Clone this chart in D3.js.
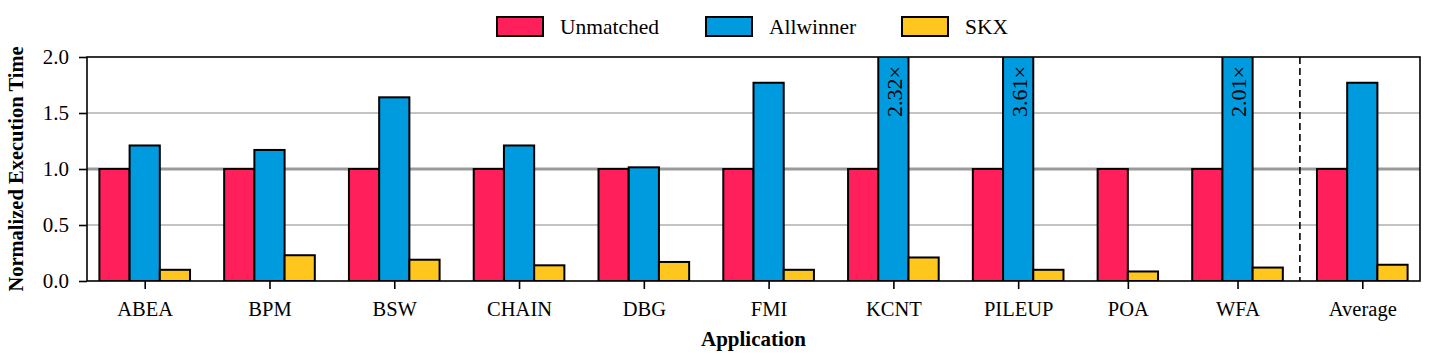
<!DOCTYPE html>
<html><head><meta charset="utf-8">
<script src="https://cdn.jsdelivr.net/npm/d3@7"></script>
<style>body{margin:0;background:#fff}svg{display:block}text{font-family:"Liberation Serif","Times New Roman",serif;fill:#000}</style>
</head><body><svg id="c" width="1429" height="360"></svg>
<script>
const categories = ["ABEA","BPM","BSW","CHAIN","DBG","FMI","KCNT","PILEUP","POA","WFA","Average"];
const seriesNames = ["Unmatched","Allwinner","SKX"];
const unmatched = [1,1,1,1,1,1,1,1,1,1,1];
const allwinner = [1.21,1.17,1.64,1.21,1.015,1.77,2.32,3.61,null,2.01,1.77];
const skx = [0.10,0.23,0.19,0.14,0.17,0.10,0.21,0.10,0.085,0.12,0.145];
const yTicks = [0,0.5,1.0,1.5,2.0];
const colors = ["#FF1F5B","#009ADE","#FFC61E"];
const series = [unmatched, allwinner, skx];

const svg = d3.select("#c");
const M = {l:87, r:1420, t:57, b:281};
const GAP = 1.13, PAD = 0.41;
const FONT = "'Liberation Serif','Times New Roman',serif";

// build bar slots from data
const bars = []; const groups = [];
let pos = PAD;
categories.forEach((c,i)=>{
  if(i>0) pos += GAP;
  const start = pos;
  series.forEach((s,k)=>{ if(s[i]!=null){ bars.push({cat:c,k,v:s[i],x0:pos}); pos += 1; } });
  groups.push({cat:c, start, end:pos, center:(start+pos)/2});
});
const total = pos + PAD;
const x = d3.scaleLinear().domain([0,total]).range([M.l,M.r]);
const y = d3.scaleLinear().domain([0,2]).range([M.b,M.t]);

// grid
const grid = svg.append("g");
[0.5,1.5].forEach(v=>grid.append("line").attr("x1",M.l).attr("x2",M.r).attr("y1",y(v)).attr("y2",y(v)).attr("stroke","#c4c4c4").attr("stroke-width",2));
grid.append("line").attr("x1",M.l).attr("x2",M.r).attr("y1",y(1)).attr("y2",y(1)).attr("stroke","#9a9a9a").attr("stroke-width",3);

svg.append("defs").append("clipPath").attr("id","clip").append("rect")
  .attr("x",M.l).attr("y",M.t).attr("width",M.r-M.l).attr("height",M.b-M.t);

const bg = svg.append("g").attr("clip-path","url(#clip)");
bg.selectAll("rect").data(bars).join("rect")
  .attr("x",d=>x(d.x0)).attr("width",d=>x(d.x0+1)-x(d.x0))
  .attr("y",d=>y(d.v)).attr("height",d=>y(0)-y(d.v))
  .attr("fill",d=>colors[d.k]).attr("stroke","#000").attr("stroke-width",2);

// value labels for clipped bars
bars.filter(d=>d.v>2).forEach(d=>{
  const cx = x(d.x0+0.5);
  svg.append("text").attr("transform",`translate(${cx+1},${M.t+9}) rotate(-90)`)
    .attr("text-anchor","end").attr("dominant-baseline","central")
    .style("font-family",FONT).style("font-size","22px").text(d.v.toFixed(2)+"\u00D7");
});

// dashed separator before Average
const gAvg = groups[groups.length-1], gPrev = groups[groups.length-2];
const sepX = x((gPrev.end+gAvg.start)/2);
svg.append("line").attr("x1",sepX).attr("x2",sepX).attr("y1",M.t).attr("y2",M.b)
  .attr("stroke","#000").attr("stroke-width",1.6).attr("stroke-dasharray","7,4");

// frame
svg.append("rect").attr("x",M.l).attr("y",M.t).attr("width",M.r-M.l).attr("height",M.b-M.t)
  .attr("fill","none").attr("stroke","#000").attr("stroke-width",1.6);

// y axis
const ya = svg.append("g").attr("transform",`translate(${M.l},0)`)
  .call(d3.axisLeft(y).tickValues(yTicks).tickFormat(d3.format(".1f")).tickSize(8).tickPadding(10));
ya.select(".domain").remove();
ya.selectAll("line").attr("stroke-width",1.6);
ya.selectAll("text").style("font-size","21px").style("font-family",FONT);

// x axis
const xa = svg.append("g").attr("transform",`translate(0,${M.b})`)
  .call(d3.axisBottom(x).tickValues(groups.map(g=>g.center)).tickFormat((d,i)=>groups[i].cat).tickSize(8).tickPadding(12));
xa.select(".domain").remove();
xa.selectAll("line").attr("stroke-width",1.6);
xa.selectAll("text").style("font-size","20.5px").style("font-family",FONT);

// axis titles
svg.append("text").attr("x",(M.l+M.r)/2).attr("y",346).attr("text-anchor","middle")
  .style("font-family",FONT).style("font-size","21px").style("font-weight","bold").text("Application");
svg.append("text").attr("transform",`translate(23,${(M.t+M.b)/2}) rotate(-90)`).attr("text-anchor","middle")
  .style("font-family",FONT).style("font-size","20.5px").style("font-weight","bold").text("Normalized Execution Time");

// legend
const legX = [497,706,902];
const lg = svg.append("g");
seriesNames.forEach((n,i)=>{
  lg.append("rect").attr("x",legX[i]).attr("y",17).attr("width",46).attr("height",19)
    .attr("fill",colors[i]).attr("stroke","#000").attr("stroke-width",2);
  lg.append("text").attr("x",legX[i]+63).attr("y",26.5).attr("dominant-baseline","central")
    .style("font-family",FONT).style("font-size","21.5px").text(n);
});
</script></body></html>
